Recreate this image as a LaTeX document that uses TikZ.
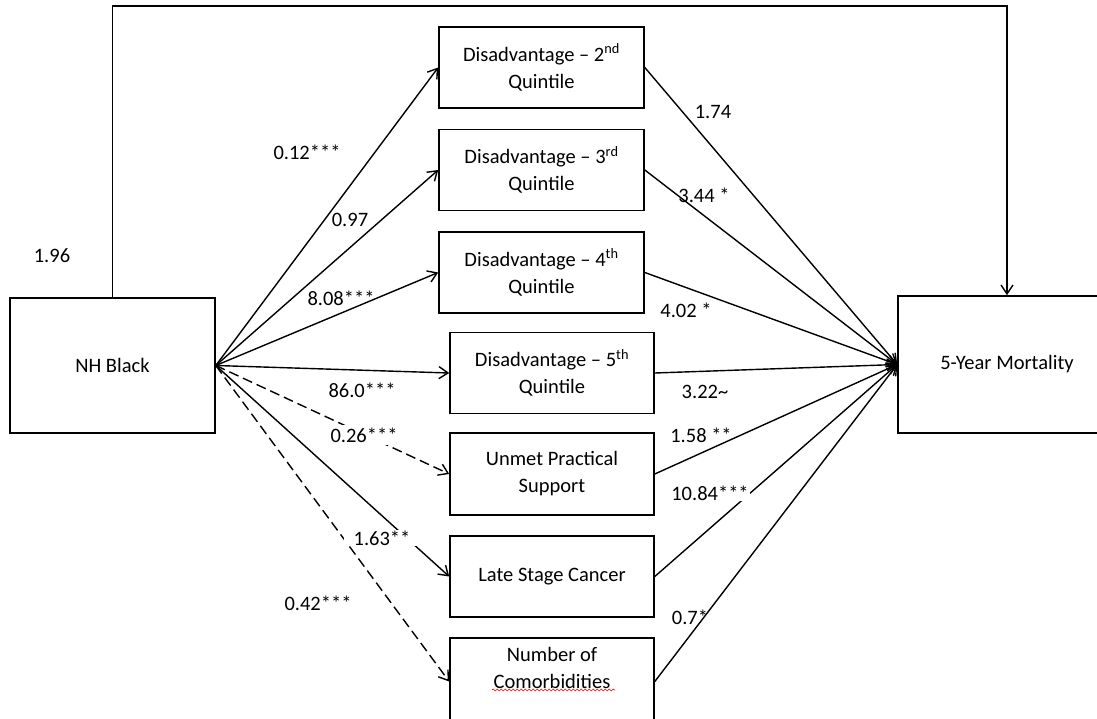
\documentclass[tikz,border=0pt]{standalone}
\usepackage{fontspec}
\setmainfont{Carlito}
\usetikzlibrary{positioning}
\usetikzlibrary{arrows.meta}
\usetikzlibrary{decorations.pathmorphing}
\tikzset{
  box/.style={draw,line width=1.6pt,minimum width=205pt,minimum height=81pt,align=center,inner sep=0pt},
  coef/.style={inner sep=1pt},
  link/.style={line width=1.4pt,-{Straight Barb[length=9pt,width=12pt]}},
  dashlink/.style={link,dash pattern=on 10pt off 5pt},
}

\begin{document}
\begin{tikzpicture}[x=1pt,y=-1pt,font=\fontsize{20.5}{27}\selectfont]
        \useasboundingbox (0,0) rectangle (1097,719);
        \node[box,minimum height=135pt] (black) at (112.5,365.5) {NH Black};
        \node[box,minimum width=218pt,minimum height=137pt] (mort) at (1007,364.5) {5-Year Mortality};
        \node[box] (q2) at (541.5,67.5) {Disadvantage -- 2\textsuperscript{nd}\\Quintile};
        \node[box] (q3) at (541.5,170) {Disadvantage -- 3\textsuperscript{rd}\\Quintile};
        \node[box] (q4) at (541.5,272.5) {Disadvantage -- 4\textsuperscript{th}\\Quintile};
        \node[box,minimum width=204pt] (q5) at (552,373) {Disadvantage -- 5\textsuperscript{th}\\Quintile};
        \node[box,minimum width=204pt,minimum height=82pt] (unmet) at (552,474) {Unmet Practical\\Support};
        \node[box,minimum width=204pt] (late) at (552,576.5) {Late Stage Cancer};
        \node[box,minimum width=204pt,minimum height=87pt] (comorb) at (552,681.5) {Number of\\Comorbidities\\\mbox{}};
        \coordinate (top) at (1007,6);

        \draw[link] (black.north) |- (top) -- (mort.north);
        \draw[link] (black.east) -- (q2.west);
        \draw[link] (black.east) -- (q3.west);
        \draw[link] (black.east) -- (q4.west);
        \draw[link] (black.east) -- (q5.west);
        \draw[dashlink] (black.east) -- (unmet.west);
        \draw[link] (black.east) -- (late.west);
        \draw[dashlink] (black.east) -- (comorb.west);
        \draw[link] (q2.east) -- (mort.west);
        \draw[link] (q3.east) -- (mort.west);
        \draw[link] (q4.east) -- (mort.west);
        \draw[link] (q5.east) -- (mort.west);
        \draw[link] (unmet.east) -- (mort.west);
        \draw[link] (late.east) -- (mort.west);
        \draw[link] (comorb.east) -- (mort.west);
        \draw[red,line width=0.6pt,decorate,decoration={snake,amplitude=1pt,segment length=4pt}] (492,690) -- (615,690);

        \node[coef] (cdirect) at (52,256) {1.96};
        \node[coef] (cq2) at (307,152) {0.12***};
        \node[coef] (cq3) at (350,220) {0.97};
        \node[coef] (cq4) at (341,298) {8.08***};
        \node[coef] (cq5) at (362,390) {86.0***};
        \node[coef,fill=white,inner sep=3pt] (cunmet) at (364,435) {0.26***};
        \node[coef,fill=white,inner xsep=10pt] (clate) at (382,538) {1.63**};
        \node[coef] (ccomorb) at (318,603) {0.42***};
        \node[coef] (mq2) at (713,112) {1.74};
        \node[coef] (mq3) at (704,195) {3.44 *};
        \node[coef] (mq4) at (686,310) {4.02 *};
        \node[coef] (mq5) at (705,392) {3.22\textasciitilde};
        \node[coef] (munmet) at (701,435) {1.58 **};
        \node[coef,fill=white] (mlate) at (710,493) {10.84***};
        \node[coef] (mcomorb) at (690,617) {0.7*};
      \end{tikzpicture}
\end{document}
